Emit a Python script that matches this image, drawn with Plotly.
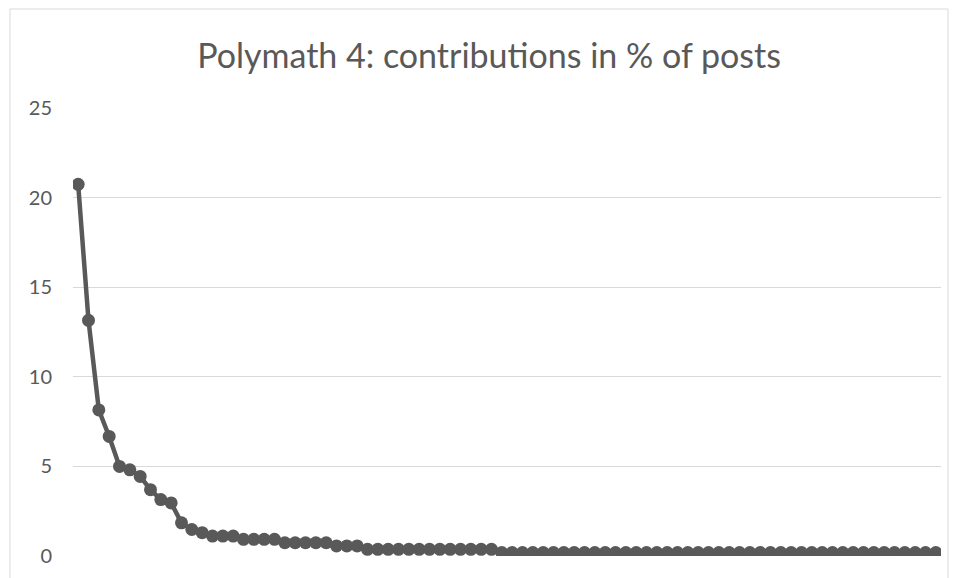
import plotly.graph_objects as go

# Contributor rank (1 = most active) and share of posts in %
ranks = list(range(1, 85))
share_pct = (
    [20.74, 13.15, 8.15, 6.67, 5.00, 4.81, 4.44, 3.70, 3.15, 2.96,
     1.85, 1.48, 1.30, 1.11, 1.11, 1.11, 0.93, 0.93, 0.93, 0.93,
     0.74, 0.74, 0.74, 0.74, 0.74, 0.56, 0.56, 0.56]
    + [0.37] * 13
    + [0.19] * 43
)
y_ticks = [0, 5, 10, 15, 20, 25]
title_text = "Polymath 4: contributions in % of posts"

W, H = 958, 578
L, R, T, B = 73, 941, 108, 556
grey = "#595959"

fig = go.Figure()
fig.add_trace(go.Scatter(
    x=ranks, y=share_pct, mode="lines+markers",
    line=dict(color=grey, width=4.5),
    marker=dict(color=grey, size=13, line=dict(width=0)),
    hoverinfo="x+y", showlegend=False,
))

def px_to_paper_x(px):
    return (px - L) / (R - L)

def py_to_paper_y(py):
    return (B - py) / (B - T)

fig.update_layout(
    width=W, height=H,
    margin=dict(l=L, r=W - R, t=T, b=H - B, pad=0, autoexpand=False),
    paper_bgcolor="white", plot_bgcolor="white",
    font=dict(family="Lato, 'Open Sans', sans-serif", color=grey),
    title=dict(text=title_text, x=489 / W, xref="container", xanchor="center",
               y=1 - 56 / H, yref="container", yanchor="middle",
               font=dict(size=34, color=grey,
                         family="Lato, 'Open Sans', sans-serif")),
    xaxis=dict(range=[0.5, len(ranks) + 0.5], showticklabels=False,
               showgrid=False, zeroline=False, showline=False, ticks=""),
    yaxis=dict(range=[0, 25], tickvals=y_ticks, showgrid=True,
               gridcolor="#d9d9d9", gridwidth=1, zeroline=False,
               showline=False, ticks="", ticklabelstandoff=20,
               automargin=False,
               tickfont=dict(size=20, color=grey)),
    shapes=[dict(type="rect", xref="paper", yref="paper",
                 x0=px_to_paper_x(10), x1=px_to_paper_x(948),
                 y0=py_to_paper_y(600), y1=py_to_paper_y(9),
                 line=dict(color="#d9d9d9", width=1),
                 fillcolor="rgba(0,0,0,0)", layer="below")],
)

fig.write_html("out.html",
               config={"displayModeBar": False},
               post_script="document.body.style.margin='0';")
